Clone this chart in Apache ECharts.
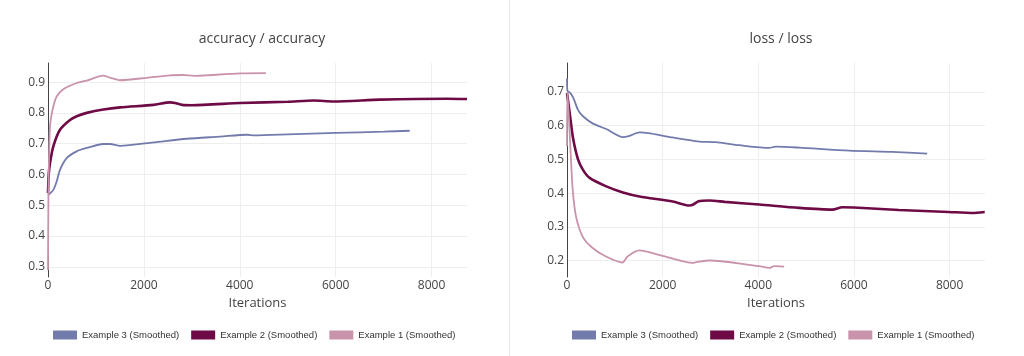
<!DOCTYPE html>
<html>
<head>
<meta charset="utf-8">
<script src="https://cdn.jsdelivr.net/npm/echarts@6/dist/echarts.min.js"></script>
<style>html,body{margin:0;padding:0;background:#fff;}#c{width:1024px;height:356px;}</style>
</head>
<body>
<div id="c"></div>
<script>
// ---- data ----
const seriesNames = ['Example 3 (Smoothed)', 'Example 2 (Smoothed)', 'Example 1 (Smoothed)'];
const xTicks = [0, 2000, 4000, 6000, 8000];
const accTicks = [0.3, 0.4, 0.5, 0.6, 0.7, 0.8, 0.9];
const lossTicks = [0.2, 0.3, 0.4, 0.5, 0.6, 0.7];

const acc3 = [[0,0.532],[111,0.55],[181,0.577],[250,0.615],[390,0.653],[598,0.675],[807,0.686],[1155,0.699],[1294,0.699],[1503,0.693],[2199,0.704],[2895,0.716],[3590,0.723],[4150,0.729],[4300,0.727],[5000,0.730],[6000,0.735],[7000,0.739],[7545,0.742]];
const acc2 = [[0,0.54],[15,0.60],[42,0.637],[111,0.691],[250,0.745],[459,0.777],[612,0.790],[808,0.800],[1155,0.811],[1503,0.818],[2199,0.826],[2547,0.834],[2650,0.832],[2800,0.826],[3000,0.825],[4009,0.832],[5000,0.836],[5540,0.840],[5958,0.837],[6932,0.843],[8325,0.846],[8740,0.845]];
const acc1 = [[0,0.29],[10,0.55],[25,0.68],[42,0.756],[70,0.79],[111,0.821],[181,0.853],[320,0.877],[598,0.897],[807,0.905],[1155,0.921],[1300,0.914],[1503,0.906],[2060,0.914],[2547,0.922],[2800,0.923],[3050,0.920],[3300,0.922],[4009,0.928],[4545,0.929]];

const loss3 = [[0,0.74],[10,0.703],[56,0.699],[125,0.685],[230,0.647],[334,0.628],[543,0.606],[821,0.590],[1169,0.566],[1308,0.570],[1517,0.580],[1700,0.578],[2211,0.565],[2768,0.553],[3100,0.551],[3603,0.542],[4228,0.534],[4368,0.538],[4854,0.535],[5897,0.526],[6800,0.522],[7531,0.517]];
const loss2 = [[0,0.697],[56,0.638],[125,0.564],[230,0.50],[334,0.469],[473,0.445],[821,0.42],[1169,0.402],[1517,0.39],[2211,0.375],[2559,0.363],[2640,0.366],[2750,0.376],[2977,0.378],[3300,0.374],[4020,0.366],[4854,0.356],[5549,0.351],[5758,0.358],[6000,0.357],[6940,0.350],[7983,0.344],[8469,0.341],[8734,0.344]];
const loss1 = [[0,0.54],[8,0.70],[49,0.598],[84,0.499],[119,0.41],[188,0.331],[327,0.271],[536,0.237],[814,0.212],[1162,0.194],[1266,0.212],[1510,0.230],[1996,0.214],[2622,0.193],[2726,0.196],[2977,0.200],[4020,0.183],[4228,0.178],[4333,0.183],[4541,0.182]];

// ---- styles ----
const colors = ['#737bad', '#6e0a45', '#c993ab'];
const widths = [1.8, 2.6, 1.8];
const axisFont = 'Open Sans';
const legendFont = 'Liberation Sans';

function xAxis(gi) {
  return {
    type: 'value', gridIndex: gi, min: 0, max: 8740,
    name: 'Iterations', nameLocation: 'middle', nameGap: 20,
    nameTextStyle: { fontFamily: axisFont, fontSize: 13, color: '#444' },
    axisLine: { show: false }, axisTick: { show: false, customValues: xTicks },
    axisLabel: { customValues: xTicks, fontFamily: axisFont, fontSize: 12, color: '#444', margin: 3,
      formatter: v => String(v) },
    splitLine: { show: true, lineStyle: { color: '#eeeeee', width: 1 } }
  };
}
function yAxis(gi, min, max, ticks) {
  return {
    type: 'value', gridIndex: gi, min: min, max: max,
    axisLine: { show: true, lineStyle: { color: '#444', width: 1 } },
    axisTick: { show: false, customValues: ticks },
    axisLabel: { customValues: ticks, fontFamily: axisFont, fontSize: 12, color: '#444', margin: 3,
      formatter: v => v.toFixed(1) },
    splitLine: { show: true, lineStyle: { color: '#eeeeee', width: 1 } }
  };
}
function line(name, data, i, gi) {
  return {
    type: 'line', name: name, data: data, xAxisIndex: gi, yAxisIndex: gi,
    showSymbol: false, smooth: 0.25, z: i === 2 ? 4 : 3,
    lineStyle: { color: colors[i], width: widths[i] },
    itemStyle: { color: colors[i] }
  };
}
function legend(left) {
  return {
    left: left, top: 330, padding: 0, itemWidth: 24, itemHeight: 9, itemGap: 12, icon: 'rect',
    data: seriesNames,
    textStyle: { fontFamily: legendFont, fontSize: 9.5, color: '#333' }
  };
}

const chart = echarts.init(document.getElementById('c'), null, { renderer: 'canvas' });
chart.setOption({
  animation: false,
  backgroundColor: '#fff',
  title: [
    { text: 'accuracy / accuracy', left: 257, top: 27, textAlign: 'center',
      textStyle: { fontFamily: axisFont, fontSize: 14, fontWeight: 'normal', color: '#444' } },
    { text: 'loss / loss', left: 776, top: 27, textAlign: 'center',
      textStyle: { fontFamily: axisFont, fontSize: 14, fontWeight: 'normal', color: '#444' } }
  ],
  legend: [legend(53), legend(572)],
  grid: [
    { left: 48, top: 63, width: 419, height: 214 },
    { left: 567, top: 63, width: 418, height: 214 }
  ],
  xAxis: [xAxis(0), xAxis(1)],
  yAxis: [yAxis(0, 0.267, 0.962, accTicks), yAxis(1, 0.151, 0.786, lossTicks)],
  series: [
    line(seriesNames[0], acc3, 0, 0),
    line(seriesNames[1], acc2, 1, 0),
    line(seriesNames[2], acc1, 2, 0),
    line(seriesNames[0], loss3, 0, 1),
    line(seriesNames[1], loss2, 1, 1),
    line(seriesNames[2], loss1, 2, 1)
  ],
  graphic: [
    { type: 'line', shape: { x1: 509.5, y1: 0, x2: 509.5, y2: 356 }, style: { stroke: '#e6e6e6', lineWidth: 1 }, silent: true }
  ]
});
</script>
</body>
</html>
